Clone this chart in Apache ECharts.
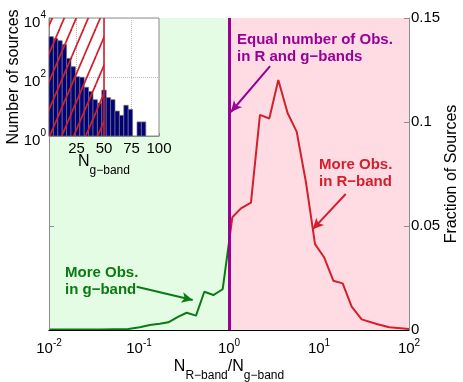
<!DOCTYPE html>
<html>
<head>
<meta charset="utf-8">
<script src="https://cdn.jsdelivr.net/npm/echarts@6/dist/echarts.min.js"></script>
<style>
html, body { margin: 0; padding: 0; background: #fff; }
#main { width: 463px; height: 382px; }
</style>
</head>
<body>
<div id="main"></div>
<script>
// main curve: N_R/N_g ratio -> fraction of sources
var ratio = [0.01, 0.037, 0.076, 0.102, 0.132, 0.17, 0.212, 0.274, 0.339, 0.43, 0.532, 0.67, 0.851,
    1.089, 1.358, 1.754, 2.208, 2.805, 3.532, 4.487, 5.649, 7.178, 9.036, 11.38, 14.42, 18.32, 23.07,
    29.79, 43.75, 60.4, 100];
var fraction = [0.0003, 0.0003, 0.0005, 0.0013, 0.0024, 0.003, 0.0037, 0.0064, 0.0083, 0.0069, 0.0184, 0.0168, 0.0196,
    0.0542, 0.0585, 0.0612, 0.1034, 0.1017, 0.1202, 0.1042, 0.0954, 0.0708, 0.0413, 0.035, 0.0237, 0.0224, 0.0112,
    0.0051, 0.0029, 0.0013, 0.0005];

// inset histogram (N_g-band), bins 4 wide
var binCenters = [2, 6, 10, 14, 18, 22, 26, 30, 34, 38, 42, 46, 50, 54, 58, 62, 66, 70, 74, 82, 86];
var binCounts = [2340, 2000, 1700, 1260, 427, 224, 102, 98, 45, 32, 17, 13, 36, 20, 17, 7, 5, 11, 8, 3, 3];
var binWidth = 4;
// hatched selection in the inset: N_g from 0 to 50
var selRange = [[0, 50]];

var fractionTicks = [0, 0.05, 0.1, 0.15];

var font = '"Liberation Sans", Arial, Helvetica, sans-serif';
var green = '#0b7a12', red = '#d21f2b', purple = '#980098';

// hatch pattern tile
function hatch() {
    var c = document.createElement('canvas');
    c.width = 12; c.height = 28;
    var g = c.getContext('2d');
    g.strokeStyle = red;
    g.lineWidth = 1.7;
    [-12, 0, 12].forEach(function (dx) {
        g.beginPath();
        g.moveTo(dx, 28);
        g.lineTo(dx + 12, 0);
        g.stroke();
    });
    return c;
}
var hatchImg = hatch();

var tickRich = {
    b: { fontSize: 15, fontFamily: font, color: '#000', lineHeight: 22 },
    s: { fontSize: 10, fontFamily: font, color: '#000', verticalAlign: 'top' }
};
var yTickRich = {
    b: { fontSize: 15, fontFamily: font, color: '#000', lineHeight: 24, verticalAlign: 'bottom' },
    s: { fontSize: 10, fontFamily: font, color: '#000', verticalAlign: 'top', padding: [4, 0, 0, 0] }
};
var nameRich = {
    n: { fontSize: 16, fontFamily: font, color: '#000', lineHeight: 30 },
    d: { fontSize: 12, fontFamily: font, color: '#000', verticalAlign: 'bottom' }
};
function pow10(v) {
    return '{b|10}{s|' + Math.round(Math.log10(v)) + '}';
}

var curve = ratio.map(function (r, i) { return [r, fraction[i]]; });
var bins = binCenters.map(function (c, i) { return [c, binCounts[i]]; });

var gray = '#8c8c8c';

var option = {
    animation: false,
    grid: [
        { left: 49, top: 18, width: 360, height: 312, outerBoundsMode: 'none', containLabel: false },
        { left: 49, top: 18, width: 110, height: 118, outerBoundsMode: 'none', containLabel: false,
          show: true, backgroundColor: '#fff', borderColor: gray, z: 10 }
    ],
    visualMap: {
        show: false, type: 'piecewise', seriesIndex: 1, dimension: 0,
        pieces: [{ gte: 0.001, lt: 1, color: green }, { gte: 1, lte: 1000, color: red }]
    },
    xAxis: [
        {
            type: 'log', gridIndex: 0, min: 0.01, max: 100, z: 5,
            axisLine: { lineStyle: { color: gray } },
            axisTick: { show: false },
            splitLine: { show: false },
            axisLabel: { formatter: pow10, rich: tickRich, margin: 8 },
            name: '{n|N}{d|R\u2212band}{n|/N}{d|g\u2212band}',
            nameLocation: 'middle', nameGap: 22, nameMoveOverlap: false,
            nameTextStyle: { rich: nameRich }
        },
        {
            type: 'log', gridIndex: 0, min: 0.01, max: 100, position: 'top', z: 15,
            axisLine: { lineStyle: { color: '#000' } },
            axisTick: { show: false }, axisLabel: { show: false }, splitLine: { show: false }
        },
        {
            type: 'value', gridIndex: 1, min: 0, max: 100, interval: 25, z: 11,
            axisLine: { lineStyle: { color: gray } },
            axisTick: { inside: true, length: 3, lineStyle: { color: gray } },
            splitLine: { show: true, lineStyle: { type: 'dotted', color: '#bbb' } },
            axisLabel: {
                formatter: function (v) { return v === 0 ? '' : v; },
                fontSize: 15, fontFamily: font, color: '#000', margin: 5
            },
            name: '{n|N}{d|g\u2212band}',
            nameLocation: 'middle', nameGap: 11, nameMoveOverlap: false,
            nameTextStyle: { rich: nameRich }
        }
    ],
    yAxis: [
        {
            type: 'value', gridIndex: 0, position: 'right', min: 0, max: 0.15, interval: 0.05, z: 5,
            axisLine: { show: true, lineStyle: { color: gray } },
            axisTick: { show: true, inside: true, length: 5, lineStyle: { color: gray } },
            splitLine: { show: false },
            axisLabel: {
                fontSize: 15, fontFamily: font, color: '#000', margin: 2,
                formatter: function (v) { return fractionTicks.indexOf(+v.toFixed(2)) >= 0 ? String(+v.toFixed(2)) : ''; }
            },
            name: 'Fraction of Sources', nameLocation: 'middle', nameGap: 35, nameRotate: 90,
            nameMoveOverlap: false,
            nameTextStyle: { fontSize: 16, fontFamily: font, color: '#000' }
        },
        {
            type: 'value', gridIndex: 0, position: 'left', min: 0, max: 3, interval: 1, z: 5,
            axisLine: { show: true, lineStyle: { color: gray } },
            axisTick: { show: true, inside: true, length: 5, lineStyle: { color: gray } },
            axisLabel: { show: false }, splitLine: { show: false }
        },
        {
            type: 'log', logBase: 100, gridIndex: 1, min: 1, max: 10000, z: 11,
            axisLine: { show: true, lineStyle: { color: gray } },
            axisTick: { show: true, inside: true, length: 3, lineStyle: { color: gray } },
            splitLine: { show: true, lineStyle: { type: 'dotted', color: '#bbb' } },
            axisLabel: { formatter: pow10, rich: yTickRich, margin: 3 },
            name: 'Number of sources', nameLocation: 'middle', nameGap: 27, nameRotate: 90,
            nameMoveOverlap: false,
            nameTextStyle: { fontSize: 16, fontFamily: font, color: '#000' }
        }
    ],
    graphic: [
        {
            type: 'text', left: 237, top: 31, z: 30,
            style: { text: 'Equal number of Obs.\nin R and g\u2212bands', font: 'bold 15px ' + font, fill: purple, lineHeight: 17 }
        },
        {
            type: 'text', left: 319, top: 156, z: 30,
            style: { text: 'More Obs.\nin R\u2212band', font: 'bold 15px ' + font, fill: red, lineHeight: 17 }
        },
        {
            type: 'text', left: 65, top: 264, z: 30,
            style: { text: 'More Obs.\nin g\u2212band', font: 'bold 15px ' + font, fill: green, lineHeight: 17 }
        }
    ],
    series: [
        {
            // shaded backgrounds
            type: 'line', xAxisIndex: 0, yAxisIndex: 0, data: [], z: 1,
            markArea: {
                silent: true,
                data: [
                    [{ xAxis: 0.01, itemStyle: { color: '#e5fce4' } }, { xAxis: 1 }],
                    [{ xAxis: 1, itemStyle: { color: '#ffdce4' } }, { xAxis: 100 }]
                ]
            }
        },
        {
            type: 'line', xAxisIndex: 0, yAxisIndex: 0, data: curve, z: 3,
            showSymbol: false, lineStyle: { width: 2 }
        },
        {
            // equality line and arrows
            type: 'line', xAxisIndex: 0, yAxisIndex: 0, data: [], z: 4,
            markLine: {
                silent: true, symbol: ['none', 'arrow'], symbolSize: [8, 11],
                label: { show: false },
                data: [
                    [{ coord: [1, 0], symbol: 'none', lineStyle: { color: purple, width: 3, type: 'solid' } },
                     { coord: [1, 0.15], symbol: 'none' }],
                    [{ coord: [2.86, 0.1269], lineStyle: { color: purple, width: 2, type: 'solid' }, itemStyle: { color: purple } },
                     { coord: [1.05, 0.1048], itemStyle: { color: purple } }],
                    [{ coord: [19.8, 0.0654], lineStyle: { color: red, width: 2, type: 'solid' }, itemStyle: { color: red } },
                     { coord: [8.51, 0.0484], itemStyle: { color: red } }],
                    [{ coord: [0.0942, 0.0208], lineStyle: { color: green, width: 2, type: 'solid' }, itemStyle: { color: green } },
                     { coord: [0.395, 0.0144], itemStyle: { color: green } }]
                ]
            }
        },
        {
            type: 'custom', xAxisIndex: 2, yAxisIndex: 2, data: bins, z: 12,
            renderItem: function (params, api) {
                var c = api.value(0), n = api.value(1);
                var p0 = api.coord([c - binWidth / 2, n]);
                var p1 = api.coord([c + binWidth / 2, 1]);
                return {
                    type: 'rect',
                    shape: { x: p0[0], y: p0[1], width: p1[0] - p0[0], height: p1[1] - p0[1] },
                    style: { fill: '#00007c', stroke: '#77776a', lineWidth: 0.7 }
                };
            }
        },
        {
            // hatched selection region + its edge
            type: 'custom', xAxisIndex: 2, yAxisIndex: 2, data: selRange, z: 13, silent: true,
            renderItem: function (params, api) {
                var a = api.coord([api.value(0), 10000]);
                var b = api.coord([api.value(1), 1]);
                return {
                    type: 'group',
                    children: [
                        {
                            type: 'rect',
                            shape: { x: a[0], y: a[1], width: b[0] - a[0], height: b[1] - a[1] },
                            style: { fill: { image: hatchImg, repeat: 'repeat' } }
                        },
                        {
                            type: 'line',
                            shape: { x1: b[0], y1: a[1], x2: b[0], y2: b[1] },
                            style: { stroke: red, lineWidth: 1.6 }
                        }
                    ]
                };
            }
        }
    ]
};

var myChart = echarts.init(document.getElementById('main'));
myChart.setOption(option);
</script>
</body>
</html>
